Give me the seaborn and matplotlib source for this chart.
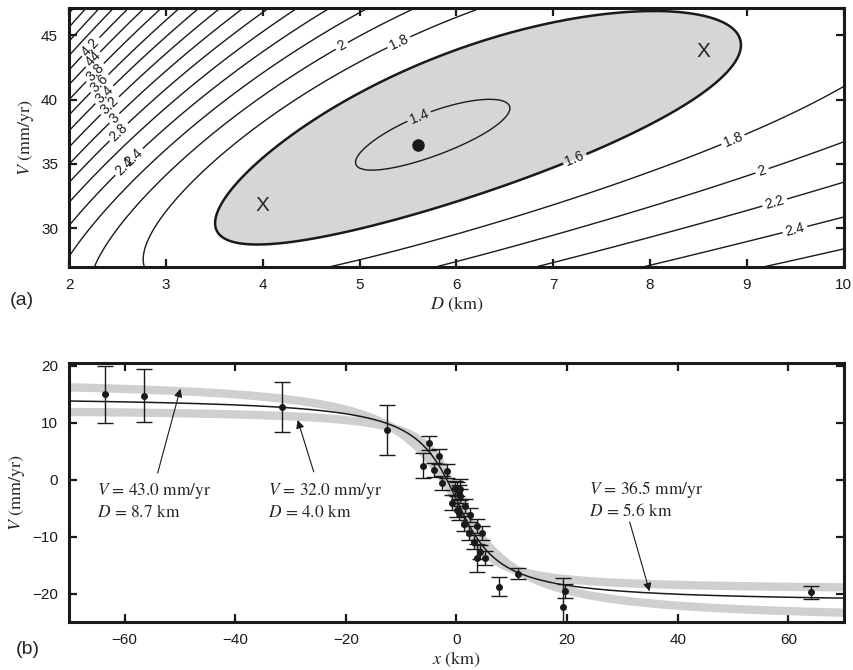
import matplotlib
matplotlib.use('Agg')
import matplotlib.pyplot as plt
import numpy as np
import seaborn as sns

# Profile data: distance (km), velocity and 1-sigma (mm/yr)
x_obs = [-63.6, -56.5, -31.6, -12.5,
         -6.0, -5.0, -4.1, -3.2, -2.6, -1.7, -0.8, -0.2, 0.6, 0.1, 0.4, 0.1,
         0.4, 0.7, 1.3, 1.6, 2.2, 2.5, 3.1, 3.7, 4.3, 4.6, 3.7, 5.2,
         7.6, 11.2, 19.7, 19.2, 64.0]
v_obs = [15.0, 14.8, 12.8, 8.8,
         2.5, 6.5, 1.7, 4.1, -0.6, 1.5, -4.0, -1.5, -1.7, -1.6, -2.2, -5.3,
         -5.9, -2.8, -7.7, -4.6, -9.4, -6.2, -10.9, -8.1, -12.7, -9.3, -13.7, -13.7,
         -18.8, -16.5, -19.6, -22.3, -19.8]
v_err = [5.0, 4.7, 4.4, 4.4,
         2.2, 1.25, 1.25, 1.25, 1.25, 1.25, 1.25, 1.25, 1.9, 1.25, 1.25, 1.25,
         1.25, 1.25, 1.25, 1.25, 1.25, 1.25, 1.25, 1.25, 1.25, 1.25, 2.5, 1.25,
         1.7, 1.0, 1.2, 5.0, 1.1]

# Models: best fit and the two alternatives marked X in panel (a)
best_V, best_D = 36.5, 5.6
alt_V = [43.0, 32.0]
alt_D = [8.7, 4.0]
mark_D = [4.0, 8.55]
mark_V = [31.8, 43.7]

misfit_levels = [1.4, 1.6, 1.8, 2.0, 2.2, 2.4, 2.6, 2.8, 3.0, 3.2, 3.4, 3.6, 3.8, 4.0, 4.2,
                 4.4, 4.6, 4.8, 5.0, 5.2, 5.4, 5.6, 5.8, 6.0]
labelled_levels = [1.4, 1.6, 1.8, 2.0, 2.2, 2.4, 2.6, 2.8, 3.0, 3.2, 3.4, 3.6, 3.8, 4.0, 4.2]
label_spots = [(5.64, 38.2), (7.24, 35.05), (5.42, 44.2), (8.91, 35.9), (4.82, 44.1),
               (9.2, 33.5), (9.33, 30.9), (9.53, 28.9), (2.61, 34.5), (2.63, 35.8),
               (2.56, 37.1), (2.51, 38.2), (2.45, 39.3), (2.4, 40.1), (2.36, 40.9),
               (2.32, 41.7), (2.28, 42.5), (2.25, 43.3), (2.22, 44.1)]

sns.set_theme(style='ticks')
plt.rcParams['font.family'] = ['Liberation Sans', 'DejaVu Sans']
plt.rcParams['mathtext.fontset'] = 'stix'

xo = np.array(x_obs)
vo = np.array(v_obs)
so = np.array(v_err)
w = 1.0 / so**2


def screw_dislocation(x, V, D):
    return -V / np.pi * np.arctan(np.asarray(x) / D)


def misfit(V, D):
    # weighted rms misfit, with the constant offset solved for
    r = vo - screw_dislocation(xo, V, D)
    c = np.sum(w * r) / np.sum(w)
    return np.sqrt(np.mean(((r - c) / so)**2)), c


D_grid = np.linspace(2, 10, 161)
V_grid = np.linspace(27, 47.1, 161)
chi = np.array([[misfit(V, D)[0] for D in D_grid] for V in V_grid])

fig = plt.figure(figsize=(8.54, 6.70), dpi=100)
ax_a = fig.add_axes([0.081, 0.6015, 0.907, 0.3865])
ax_b = fig.add_axes([0.081, 0.0716, 0.907, 0.3864])

# Panel (a)
ax_a.contourf(D_grid, V_grid, chi, levels=[0, 1.6], colors=['#d6d6d6'])
cs = ax_a.contour(D_grid, V_grid, chi, levels=misfit_levels, colors='k',
                  linewidths=[1.0 if l != 1.6 else 1.8 for l in misfit_levels])
ax_a.clabel(cs, levels=labelled_levels, fmt='%g', fontsize=10, inline=True,
            inline_spacing=3, manual=label_spots)
ax_a.plot(best_D, best_V, 'o', color='k', ms=8)
for d, v in zip(mark_D, mark_V):
    ax_a.text(d, v, 'X', ha='center', va='center', fontsize=15)
ax_a.set_xlim(2, 10)
ax_a.set_ylim(27, 47.1)
ax_a.set_xticks(range(2, 11))
ax_a.set_yticks([30, 35, 40, 45])
ax_a.set_xlabel(r'$D$ (km)', family='STIXGeneral', fontsize=13, labelpad=2)
ax_a.set_ylabel(r'$V$ (mm/yr)', family='STIXGeneral', fontsize=13, labelpad=4)

# Panel (b)
x_line = np.linspace(-70, 70, 400)
for V, D in zip(alt_V, alt_D):
    c = misfit(V, D)[1]
    sns.lineplot(x=x_line, y=screw_dislocation(x_line, V, D) + c, ax=ax_b,
                 color='#cfcfcf', linewidth=6, solid_capstyle='butt')
c_best = misfit(best_V, best_D)[1]
sns.lineplot(x=x_line, y=screw_dislocation(x_line, best_V, best_D) + c_best, ax=ax_b,
             color='k', linewidth=1.1)
ax_b.errorbar(xo, vo, yerr=so, fmt='o', color='k', ms=4, capsize=5.5,
              elinewidth=1.0, capthick=1.0)

notes = [
    (r'$V$ = 43.0 mm/yr' + '\n' + r'$D$ = 8.7 km', (-49.9, 16.0), (-54.0, 1.2), (-64.9, -0.2)),
    (r'$V$ = 32.0 mm/yr' + '\n' + r'$D$ = 4.0 km', (-28.7, 10.5), (-25.8, 1.4), (-34.0, -0.2)),
    (r'$V$ = 36.5 mm/yr' + '\n' + r'$D$ = 5.6 km', (34.9, -19.6), (31.3, -7.4), (24.0, 0.2)),
]
for label, tip, tail, pos in notes:
    ax_b.annotate('', xy=tip, xytext=tail,
                  arrowprops=dict(arrowstyle='-|>', color='k', lw=0.8,
                                  mutation_scale=12, shrinkA=0, shrinkB=0))
    ax_b.text(pos[0], pos[1], label, ha='left', va='top', family='STIXGeneral',
              fontsize=12.5, linespacing=1.25)

ax_b.set_xlim(-70, 70)
ax_b.set_ylim(-25, 20.5)
ax_b.set_xticks([-60, -40, -20, 0, 20, 40, 60])
ax_b.set_yticks([-20, -10, 0, 10, 20])
ax_b.set_xlabel(r'$x$ (km)', family='STIXGeneral', fontsize=13, labelpad=2)
ax_b.set_ylabel(r'$V$ (mm/yr)', family='STIXGeneral', fontsize=13, labelpad=4)

for ax in (ax_a, ax_b):
    ax.tick_params(direction='in', top=True, right=True, length=6, width=1.6,
                   labelsize=11, colors='k', pad=8)
    for s in ax.spines.values():
        s.set_linewidth(2.2)
        s.set_color('k')

fig.text(0.012, 0.552, '(a)', fontsize=14, va='center')
fig.text(0.018, 0.030, '(b)', fontsize=14, va='center')

fig.savefig('out.png', dpi=100, facecolor='white')
